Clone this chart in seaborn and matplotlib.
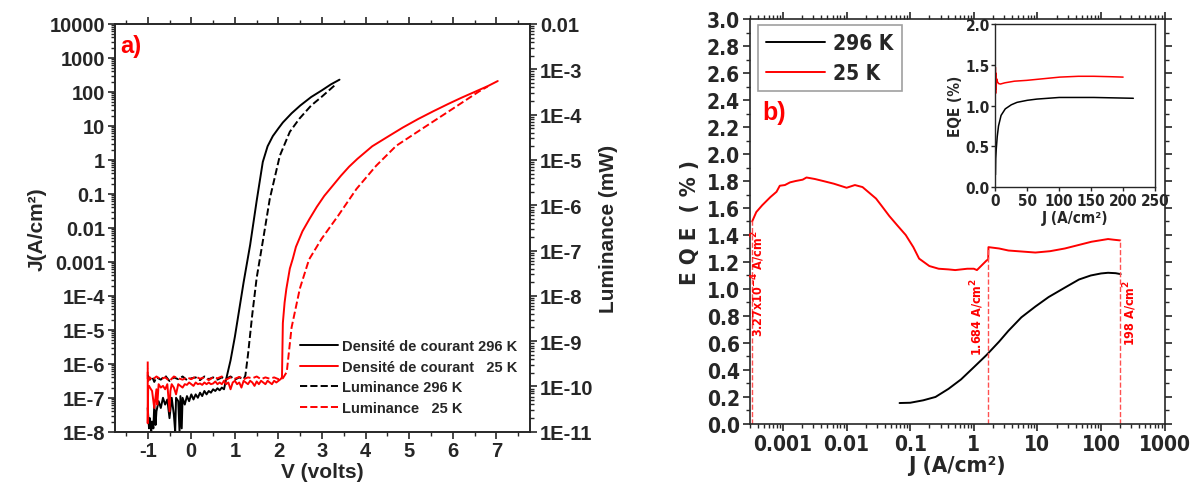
import numpy as np
import matplotlib
matplotlib.use("Agg")
import matplotlib.pyplot as plt
from matplotlib.ticker import LogLocator, MultipleLocator, NullFormatter, FormatStrFormatter
import seaborn as sns

# ---- panel a : J-V and luminance-V (values stored as log10) ----
v_j296 = [-1.00, -0.97, -0.95, -0.92, -0.90, -0.87, -0.85, -0.82, -0.80, -0.75,
          -0.70, -0.65, -0.60, -0.55, -0.50, -0.45, -0.40, -0.37, -0.35, -0.30,
          -0.27, -0.25, -0.22, -0.20, -0.15, -0.10, -0.05, 0.00, 0.05, 0.10,
          0.15, 0.20, 0.25, 0.30, 0.35, 0.40, 0.45, 0.50, 0.55, 0.60,
          0.65, 0.70, 0.75, 0.80, 0.90, 1.00, 1.10, 1.20, 1.35, 1.50,
          1.64, 1.75, 1.87, 2.00, 2.10, 2.30, 2.50, 2.75, 3.00, 3.20,
          3.40]
logj296 = [-7.3, -7.9, -7.6, -8.0, -7.7, -7.9, -7.2, -7.8, -7.4, -7.1,
           -7.3, -7.0, -7.2, -7.05, -7.6, -7.0, -7.5, -8.0, -7.0, -7.1,
           -8.0, -6.95, -7.9, -7.0, -7.2, -6.95, -7.1, -6.9, -7.05, -6.9,
           -7.0, -6.85, -6.95, -6.8, -6.9, -6.8, -6.85, -6.75, -6.8, -6.72,
           -6.78, -6.7, -6.75, -6.45, -5.9, -5.2, -4.4, -3.6, -2.5, -1.2,
           -0.06, 0.4, 0.7, 0.93, 1.1, 1.37, 1.6, 1.85, 2.05, 2.22,
           2.36]

v_j25 = [-1.00, -1.00, -0.99, -0.97, -0.95, -0.90, -0.85, -0.80, -0.78, -0.75,
         -0.70, -0.65, -0.60, -0.55, -0.50, -0.48, -0.45, -0.40, -0.35, -0.30,
         -0.25, -0.20, -0.15, -0.10, -0.05, 0.00, 0.05, 0.10, 0.15, 0.20,
         0.25, 0.30, 0.35, 0.40, 0.45, 0.50, 0.55, 0.60, 0.65, 0.70,
         0.75, 0.80, 0.85, 0.90, 0.95, 1.00, 1.05, 1.10, 1.15, 1.20,
         1.25, 1.30, 1.35, 1.40, 1.45, 1.50, 1.55, 1.60, 1.65, 1.70,
         1.75, 1.80, 1.85, 1.90, 1.95, 2.00, 2.05, 2.08, 2.10, 2.14,
         2.18, 2.26, 2.33, 2.40, 2.55, 2.71, 2.88, 3.05, 3.25, 3.43,
         3.62, 3.81, 4.15, 4.53, 4.85, 5.20, 5.55, 5.90, 6.20, 6.50,
         6.80, 7.03]
logj25 = [-6.15, -7.75, -6.7, -6.65, -6.7, -6.8, -7.3, -6.75, -7.2, -6.6,
          -6.7, -6.65, -6.75, -6.6, -7.4, -6.8, -6.6, -6.7, -6.9, -6.6,
          -6.65, -6.7, -6.6, -6.62, -6.55, -6.6, -6.65, -6.55, -6.6, -6.58,
          -6.62, -6.55, -6.6, -6.55, -6.6, -6.58, -6.52, -6.6, -6.55, -6.6,
          -6.5, -6.6, -6.55, -6.75, -6.55, -6.5, -6.6, -6.55, -6.7, -6.5,
          -6.55, -6.6, -6.5, -6.55, -6.65, -6.52, -6.6, -6.5, -6.55, -6.6,
          -6.5, -6.55, -6.6, -6.5, -6.55, -6.5, -6.45, -6.4, -4.8, -4.2,
          -3.8, -3.2, -2.9, -2.56, -2.1, -1.74, -1.38, -1.06, -0.75, -0.47,
          -0.2, 0.03, 0.4, 0.7, 0.95, 1.2, 1.43, 1.65, 1.83, 2.0,
          2.17, 2.32]

v_l296 = [-1.00, -0.95, -0.90, -0.85, -0.80, -0.70, -0.60, -0.50, -0.40, -0.30,
          -0.20, -0.10, 0.00, 0.10, 0.20, 0.30, 0.40, 0.50, 0.60, 0.70,
          0.80, 0.90, 1.00, 1.10, 1.20, 1.24, 1.30, 1.40, 1.50, 1.65,
          1.80, 2.03, 2.26, 2.48, 2.75, 3.00, 3.33]
logl296 = [-9.75, -9.85, -9.78, -9.9, -9.8, -9.85, -9.76, -9.88, -9.8, -9.84,
           -9.78, -9.86, -9.82, -9.8, -9.86, -9.78, -9.84, -9.8, -9.85, -9.8,
           -9.83, -9.78, -9.85, -9.8, -9.84, -9.76, -9.3, -8.4, -7.6, -6.74,
           -5.86, -4.91, -4.38, -4.09, -3.8, -3.6, -3.32]

v_l25 = [-1.00, -1.00, -0.95, -0.90, -0.80, -0.70, -0.60, -0.50, -0.40, -0.30,
         -0.20, -0.10, 0.00, 0.10, 0.20, 0.30, 0.40, 0.50, 0.60, 0.70,
         0.80, 0.90, 1.00, 1.10, 1.20, 1.30, 1.40, 1.50, 1.60, 1.70,
         1.80, 1.90, 2.00, 2.10, 2.19, 2.30, 2.49, 2.70, 2.99, 3.37,
         3.79, 4.24, 4.70, 5.30, 6.00, 6.60, 6.80]
logl25 = [-9.45, -9.9, -9.8, -9.86, -9.78, -9.84, -9.8, -9.88, -9.78, -9.82,
          -9.85, -9.8, -9.84, -9.78, -9.83, -9.8, -9.86, -9.8, -9.82, -9.78,
          -9.85, -9.8, -9.83, -9.79, -9.84, -9.8, -9.82, -9.78, -9.84, -9.8,
          -9.83, -9.8, -9.84, -9.82, -9.68, -8.7, -7.84, -7.2, -6.74, -6.23,
          -5.64, -5.13, -4.69, -4.31, -3.87, -3.49, -3.38]

j_ticks = [1e-8, 1e-7, 1e-6, 1e-5, 1e-4, 1e-3, 1e-2, 1e-1, 1, 10, 100, 1000, 10000]
j_ticklabels = ["1E-8", "1E-7", "1E-6", "1E-5", "1E-4", "0.001", "0.01", "0.1",
                "1", "10", "100", "1000", "10000"]
l_ticks = [1e-11, 1e-10, 1e-9, 1e-8, 1e-7, 1e-6, 1e-5, 1e-4, 1e-3, 1e-2]
l_ticklabels = ["1E-11", "1E-10", "1E-9", "1E-8", "1E-7", "1E-6", "1E-5",
                "1E-4", "1E-3", "0.01"]

# ---- panel b : EQE vs J ----
j_25 = [3.27e-4, 3.8e-4, 4.7e-4, 6.3e-4, 7.9e-4, 8.9e-4, 1.07e-3, 1.29e-3, 1.58e-3, 2.04e-3,
        2.34e-3, 3.16e-3, 4.27e-3, 6.3e-3, 0.010, 0.0135, 0.0178, 0.029, 0.035, 0.047,
        0.063, 0.085, 0.112, 0.138, 0.20, 0.28, 0.40, 0.51, 0.79, 1.0,
        1.12, 1.58, 1.684, 1.70, 2.5, 3.5, 9.3, 15.8, 27, 71,
        129, 158, 198]
eqe_25 = [1.50, 1.57, 1.62, 1.68, 1.72, 1.765, 1.77, 1.79, 1.80, 1.81,
          1.826, 1.815, 1.80, 1.78, 1.75, 1.77, 1.755, 1.67, 1.62, 1.54,
          1.47, 1.40, 1.31, 1.225, 1.17, 1.15, 1.145, 1.14, 1.15, 1.15,
          1.14, 1.21, 1.22, 1.31, 1.30, 1.285, 1.27, 1.28, 1.30, 1.35,
          1.37, 1.365, 1.36]
j_296 = [0.068, 0.10, 0.16, 0.25, 0.40, 0.63, 1.0, 1.58, 2.5, 3.5,
         5.6, 9.3, 15, 27, 45, 69, 100, 129, 170, 204]
eqe_296 = [0.155, 0.157, 0.175, 0.20, 0.26, 0.33, 0.42, 0.51, 0.61, 0.69,
           0.79, 0.87, 0.94, 1.01, 1.07, 1.10, 1.115, 1.12, 1.117, 1.11]

mark_j = [3.27e-4, 1.684, 198]
mark_eqe = [1.50, 1.30, 1.37]
mark_labels = ["3.27x10$^{-4}$ A/cm$^{2}$", "1.684 A/cm$^{2}$", "198 A/cm$^{2}$"]
mark_text_j = [4.1e-4, 1.12, 283]
mark_text_eqe = [1.05, 0.80, 0.83]

# inset (linear J)
ins_j_296 = [0.2, 0.6, 1.5, 3, 5, 9, 15.6, 25, 34, 50, 65, 100, 154, 216]
ins_eqe_296 = [0.15, 0.35, 0.47, 0.62, 0.75, 0.88, 0.96, 1.01, 1.04, 1.065, 1.08, 1.10, 1.10, 1.09]
ins_j_25 = [0.3, 0.5, 0.8, 1.2, 2, 3.5, 5.2, 8, 15, 30, 49, 75, 101, 130, 154, 180, 200]
ins_eqe_25 = [1.47, 1.15, 1.40, 1.20, 1.33, 1.29, 1.27, 1.265, 1.28, 1.30, 1.31, 1.33, 1.35,
              1.36, 1.36, 1.355, 1.35]

sns.set_style("ticks")
plt.rcParams["font.family"] = ["Liberation Sans", "DejaVu Sans"]
plt.rcParams["font.weight"] = "bold"
plt.rcParams["axes.labelweight"] = "bold"
plt.rcParams["axes.linewidth"] = 1.2
plt.rcParams["axes.unicode_minus"] = False


def condense(txt):
    txt.set_family("DejaVu Sans")
    txt.set_fontstretch("condensed")
    txt.set_fontweight("bold")


fig = plt.figure(figsize=(11.92, 4.89), dpi=100)

# ================= panel a =================
ax1 = fig.add_axes([0.0965, 0.115, 0.3485, 0.834])
ax2 = ax1.twinx()
lw = 1.4
sns.lineplot(x=v_j296, y=10 ** np.array(logj296), ax=ax1, color="black", lw=lw,
             sort=False, estimator=None, legend=False)
sns.lineplot(x=v_j25, y=10 ** np.array(logj25), ax=ax1, color="red", lw=lw,
             sort=False, estimator=None, legend=False)
sns.lineplot(x=v_l296, y=10 ** np.array(logl296), ax=ax2, color="black", lw=lw,
             linestyle="--", sort=False, estimator=None, legend=False)
sns.lineplot(x=v_l25, y=10 ** np.array(logl25), ax=ax2, color="red", lw=lw,
             linestyle="--", sort=False, estimator=None, legend=False)

ax1.set_yscale("log")
ax2.set_yscale("log")
ax1.set_ylim(1e-8, 1e4)
ax2.set_ylim(1e-11, 1e-2)
ax1.set_xlim(-1.75, 7.78)
ax1.set_yticks(j_ticks, j_ticklabels)
ax2.set_yticks(l_ticks, l_ticklabels)
for a in (ax1, ax2):
    a.yaxis.set_minor_locator(LogLocator(base=10, subs=np.arange(2, 10), numticks=20))
    a.yaxis.set_minor_formatter(NullFormatter())
ax1.set_xticks(range(-1, 8))
ax1.xaxis.set_minor_locator(MultipleLocator(0.5))
ax1.tick_params(axis="both", which="major", labelsize=14.5, length=5, width=1.2,
                direction="out", pad=2)
ax1.tick_params(axis="both", which="minor", length=3, width=1, direction="out")
ax1.tick_params(axis="x", which="both", top=True)
ax2.tick_params(axis="y", which="major", labelsize=14.5, length=5, width=1.2, pad=2)
ax2.tick_params(axis="y", which="minor", length=3, width=1)
ax1.set_xlabel("V (volts)", fontsize=15, labelpad=1)
ax1.set_ylabel("J(A/cm²)", fontsize=15, labelpad=2)
ax2.set_ylabel("Luminance (mW)", fontsize=15, labelpad=4)
for a in (ax1, ax2):
    for s in a.spines.values():
        s.set_visible(True)
        s.set_linewidth(1.2)
ax1.text(0.012, 0.975, "a)", transform=ax1.transAxes, color="red", fontsize=17,
         fontweight="bold", va="top", ha="left")

handles = [ax1.lines[0], ax1.lines[1], ax2.lines[0], ax2.lines[1]]
labels = ["Densité de courant 296 K", "Densité de courant   25 K",
          "Luminance 296 K", "Luminance   25 K"]
ax2.legend(handles, labels, loc="lower right", bbox_to_anchor=(0.99, 0.02),
           frameon=False, fontsize=10.5, handlelength=2.6, handletextpad=0.3,
           labelspacing=0.45, borderaxespad=0.2)

# ================= panel b =================
axb = fig.add_axes([0.629, 0.131, 0.348, 0.828])
sns.lineplot(x=j_296, y=eqe_296, ax=axb, color="black", lw=1.4, sort=False,
             estimator=None, label="296 K")
sns.lineplot(x=j_25, y=eqe_25, ax=axb, color="red", lw=1.4, sort=False,
             estimator=None, label="25 K")
axb.set_xscale("log")
axb.set_xlim(3.0e-4, 1000)
axb.set_ylim(0, 3.0)
axb.vlines(mark_j, 0, mark_eqe, colors="#ff5050", linestyles="--", lw=1)
for xj, yt, txt in zip(mark_text_j, mark_text_eqe, mark_labels):
    t = axb.text(xj, yt, txt, rotation=90, color="red", fontsize=9,
                 ha="center", va="center")
    condense(t)
axb.set_xticks([1e-3, 1e-2, 1e-1, 1, 10, 100, 1000],
               ["0.001", "0.01", "0.1", "1", "10", "100", "1000"])
axb.xaxis.set_minor_locator(LogLocator(base=10, subs=np.arange(2, 10), numticks=20))
axb.xaxis.set_minor_formatter(NullFormatter())
axb.yaxis.set_major_locator(MultipleLocator(0.2))
axb.yaxis.set_minor_locator(MultipleLocator(0.1))
axb.yaxis.set_major_formatter(FormatStrFormatter("%.1f"))
axb.tick_params(axis="both", which="major", labelsize=15, length=5, width=1.2,
                direction="out", pad=2)
axb.tick_params(axis="both", which="minor", length=3, width=1, direction="out")
axb.tick_params(axis="x", which="both", top=True)
axb.tick_params(axis="y", which="both", right=True)
for lab in axb.get_xticklabels() + axb.get_yticklabels():
    condense(lab)
for s in axb.spines.values():
    s.set_visible(True)
    s.set_linewidth(1.2)
axb.set_xlabel("J (A/cm²)", fontsize=16, labelpad=1)
axb.set_ylabel("E Q E  ( % )", fontsize=16, labelpad=5)
condense(axb.xaxis.label)
condense(axb.yaxis.label)
axb.text(0.031, 0.77, "b)", transform=axb.transAxes, color="red", fontsize=18,
         fontweight="bold", va="center", ha="left")
leg = axb.legend(loc="upper left", bbox_to_anchor=(0.02, 0.985),
                 handlelength=2.8, handletextpad=0.4, labelspacing=0.45,
                 fancybox=False, edgecolor="#888888", borderaxespad=0,
                 prop={"family": "DejaVu Sans", "stretch": "condensed",
                       "weight": "bold", "size": 15})
leg.get_frame().set_linewidth(1.2)

# inset
axi = fig.add_axes([0.835, 0.6155, 0.134, 0.333])
sns.lineplot(x=ins_j_296, y=ins_eqe_296, ax=axi, color="black", lw=1.1, sort=False,
             estimator=None, legend=False)
sns.lineplot(x=ins_j_25, y=ins_eqe_25, ax=axi, color="red", lw=1.1, sort=False,
             estimator=None, legend=False)
axi.set_xlim(0, 250)
axi.set_ylim(0, 2.0)
axi.set_xticks(range(0, 251, 50))
axi.set_yticks([0, 0.5, 1.0, 1.5, 2.0])
axi.yaxis.set_major_formatter(FormatStrFormatter("%.1f"))
axi.tick_params(axis="both", labelsize=11, length=3, width=1, pad=1)
for lab in axi.get_xticklabels() + axi.get_yticklabels():
    condense(lab)
for s in axi.spines.values():
    s.set_visible(True)
    s.set_linewidth(1)
axi.set_xlabel("J (A/cm²)", fontsize=11, labelpad=2)
axi.set_ylabel("EQE (%)", fontsize=11, labelpad=2)
condense(axi.xaxis.label)
condense(axi.yaxis.label)

fig.savefig("out.png", dpi=100)
